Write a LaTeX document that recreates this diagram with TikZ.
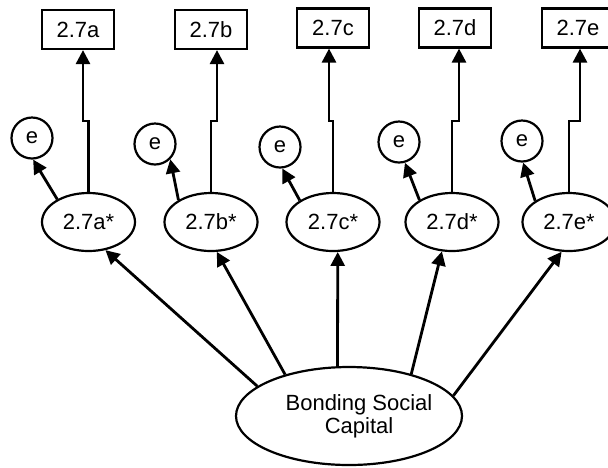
\documentclass[tikz,border=0pt]{standalone}
\usepackage{fontspec}
\setmainfont{Liberation Sans}
\usetikzlibrary{arrows.meta, shapes.geometric}

\begin{document}
\begin{tikzpicture}[x=0.5pt, y=-0.5pt,
        font=\fontsize{11}{11.5}\selectfont,
        item/.style={draw, line width=1.1pt, minimum width=36pt, minimum height=19.5pt, inner sep=0pt},
        latent/.style={draw, ellipse, line width=1.1pt, minimum width=46.5pt, minimum height=29pt, inner sep=0pt},
        err/.style={draw, circle, line width=1.1pt, minimum size=20.5pt, inner sep=0pt},
        link/.style={line width=1.4pt, -{Triangle[length=7pt, width=7pt]}},
    ]
    \clip (0,0) rectangle (608,467);

    % observed items
    \node[item] (ba) at (78,29.5) {2.7a};
    \node[item] (bb) at (211,29.5) {2.7b};
    \node[item] (bc) at (333,28) {2.7c};
    \node[item] (bd) at (455,28) {2.7d};
    \node[item] (be) at (578,28) {2.7e};

    % error terms
    \node[err] (ea) at (32,138) {e};
    \node[err] (eb) at (155,144) {e};
    \node[err] (ec) at (280,147) {e};
    \node[err] (ed) at (399,142) {e};
    \node[err] (ee) at (522,141) {e};

    % starred factors
    \node[latent] (sa) at (88.5,222) {2.7a*};
    \node[latent] (sb) at (211,222) {2.7b*};
    \node[latent] (sc) at (333,222) {2.7c*};
    \node[latent] (sd) at (452,222) {2.7d*};
    \node[latent] (se) at (569,222) {2.7e*};

    \node[latent, minimum width=113pt, minimum height=49pt,
        label={[align=center, xshift=5pt]center:Bonding Social\\Capital}] (bsc) at (349,416) {};

    % bonding -> starred
    \draw[link] (bsc.162) -- (sa.-59);
    \draw[link] (bsc.147) -- (sb.-79);
    \draw[link] (bsc.103) -- (sc.-81);
    \draw[link] (bsc.34) -- (sd.-109);
    \draw[link] (bsc.11) -- (se.-104);

    % starred -> e
    \draw[link] (sa.144) -- (ea.-87);
    \draw[link] (sb.146) -- (eb.-45);
    \draw[link] (sc.147) -- (ec.-84);
    \draw[link] (sd.146) -- (ed.-74);
    \draw[link] (se.148) -- (ee.-87);

    % starred -> items, with a small step
    \coordinate (ja) at (83,121);
    \coordinate (jb) at (217,121);
    \coordinate (jc) at (329,121);
    \coordinate (jd) at (459,121);
    \coordinate (je) at (580,121);
    \draw[link] (sa.north) |- (ja) -- (ja |- ba.south);
    \draw[link] (sb.north) |- (jb) -- (jb |- bb.south);
    \draw[link] (sc.north) |- (jc) -- (jc |- bc.south);
    \draw[link] (sd.north) |- (jd) -- (jd |- bd.south);
    \draw[link] (se.north) |- (je) -- (je |- be.south);
\end{tikzpicture}
\end{document}
